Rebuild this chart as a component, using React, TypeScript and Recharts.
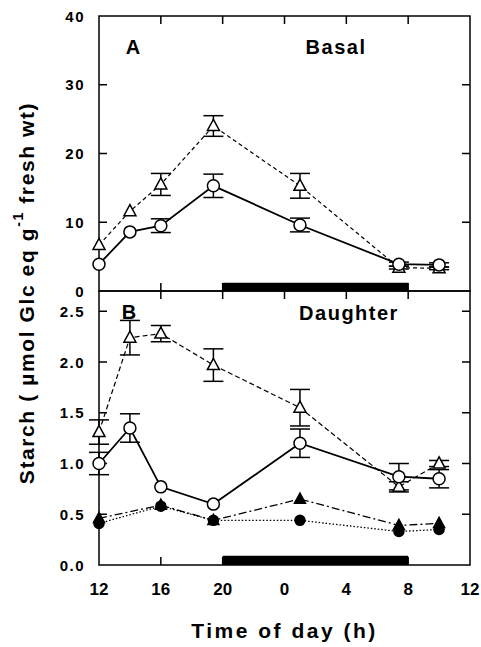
import React from 'react';
import { LineChart, Line, XAxis, YAxis, ErrorBar, ReferenceArea } from 'recharts';

// hours after midnight of day 1 (24 = 0 h next day)
const HOURS = [12, 14, 16, 19.4, 25, 31.4, 34];
const X_TICKS = [12, 16, 20, 24, 28, 32, 36];
const A_TICKS = [0, 10, 20, 30, 40];
const B_TICKS = [0, 0.5, 1.0, 1.5, 2.0, 2.5];

// Panel A - basal
const BASAL_CIRCLE = [3.9, 8.6, 9.5, 15.3, 9.6, 3.9, 3.8];
const BASAL_CIRCLE_ERR = [0, 0, 1.0, 1.7, 1.0, 0.3, 0.3];
const BASAL_TRIANGLE = [6.7, 11.6, 15.5, 24.0, 15.3, 3.4, 3.3];
const BASAL_TRIANGLE_ERR = [0, 0, 1.6, 1.5, 1.8, 0.2, 0.2];

// Panel B - daughter
const DAUGHTER_OPEN_TRI = [1.31, 2.24, 2.28, 1.97, 1.55, 0.77, 1.0];
const DAUGHTER_OPEN_TRI_ERR = [0.12, 0.17, 0.08, 0.16, 0.18, 0.05, 0.03];
const DAUGHTER_OPEN_CIRCLE = [1.0, 1.35, 0.77, 0.6, 1.2, 0.87, 0.85];
const DAUGHTER_OPEN_CIRCLE_ERR = [0.11, 0.14, 0, 0, 0.14, 0.13, 0.09];
const DAUGHTER_FILLED_TRI = [0.46, null, 0.59, 0.44, 0.65, 0.39, 0.41];
const DAUGHTER_FILLED_CIRCLE = [0.41, null, 0.58, 0.44, 0.44, 0.33, 0.35];

const X_MIN = 12;
const X_MAX = 36;
const A_MAX = 40;
const B_MAX = 2.7;
const DARK_START = 20;
const DARK_END = 32;

const basalData = HOURS.map((h, i) => ({
  h,
  circle: BASAL_CIRCLE[i],
  circleErr: BASAL_CIRCLE_ERR[i],
  tri: BASAL_TRIANGLE[i],
  triErr: BASAL_TRIANGLE_ERR[i],
}));

const daughterData = HOURS.map((h, i) => ({
  h,
  openTri: DAUGHTER_OPEN_TRI[i],
  openTriErr: DAUGHTER_OPEN_TRI_ERR[i],
  openCircle: DAUGHTER_OPEN_CIRCLE[i],
  openCircleErr: DAUGHTER_OPEN_CIRCLE_ERR[i],
  filledTri: DAUGHTER_FILLED_TRI[i],
  filledCircle: DAUGHTER_FILLED_CIRCLE[i],
}));

const FONT = '"Liberation Sans", Arial, Helvetica, sans-serif';
const TICK_LEN = 8;

const circleDot = (filled: boolean, r: number) => (props: any) => {
  const { cx, cy, index, value } = props;
  if (cx == null || cy == null || value == null) return <g key={index} />;
  return (
    <circle key={index} cx={cx} cy={cy} r={r} fill={filled ? '#000' : '#fff'} stroke="#000" strokeWidth={1.5} />
  );
};

const triangleDot = (filled: boolean, s: number) => (props: any) => {
  const { cx, cy, index, value } = props;
  if (cx == null || cy == null || value == null) return <g key={index} />;
  const pts = `${cx},${cy - s * 1.1} ${cx - s},${cy + s * 0.75} ${cx + s},${cy + s * 0.75}`;
  return <polygon key={index} points={pts} fill={filled ? '#000' : '#fff'} stroke="#000" strokeWidth={1.5} />;
};

const yLabel = (decimals: number) => (props: any) => (
  <text x={props.x} y={props.y} textAnchor="end" dominantBaseline="central" fontFamily={FONT} fontWeight="bold"
    fontSize={15} letterSpacing={1.5} fill="#000">
    {Number(props.payload.value).toFixed(decimals)}
  </text>
);

const xLabel = (props: any) => (
  <text x={props.x} y={props.y} textAnchor="middle" dominantBaseline="central" fontFamily={FONT} fontWeight="bold"
    fontSize={17} fill="#000">
    {Number(props.payload.value) % 24}
  </text>
);

// frame of the plot box with inward ticks on all four sides
const frameShape = (yTicks: number[], yMax: number) => (props: any) => {
  const x = Number(props.x);
  const y = Number(props.y);
  const w = Number(props.width);
  const h = Number(props.height);
  const px = (v: number) => x + ((v - X_MIN) / (X_MAX - X_MIN)) * w;
  const py = (v: number) => y + h - (v / yMax) * h;
  let d = '';
  yTicks.filter((v) => v > 0 && v < yMax).forEach((v) => {
    d += `M${x},${py(v)}h${TICK_LEN}M${x + w},${py(v)}h${-TICK_LEN}`;
  });
  X_TICKS.filter((v) => v > X_MIN && v < X_MAX).forEach((v) => {
    d += `M${px(v)},${y + h}v${-TICK_LEN}M${px(v)},${y}v${TICK_LEN}`;
  });
  return (
    <g>
      <rect x={x} y={y} width={w} height={h} fill="none" stroke="#000" strokeWidth={1.5} />
      <path d={d} fill="none" stroke="#000" strokeWidth={1.5} />
    </g>
  );
};

const panelLabel = { fontFamily: FONT, fontWeight: 'bold' as const, fontSize: 20, fill: '#000' };

const App: React.FC = () => {
  return (
    <div style={{ position: 'absolute', left: 0, top: 0, width: 481, height: 647, background: '#fff' }}>
      {/* Panel A */}
      <div style={{ position: 'absolute', left: 0, top: 0 }}>
        <LineChart width={481} height={305} data={basalData} margin={{ top: 16, right: 11, bottom: 0, left: 0 }}>
          <XAxis dataKey="h" type="number" domain={[X_MIN, X_MAX]} ticks={X_TICKS} height={14}
            axisLine={false} tickLine={false} tick={false} />
          <YAxis type="number" domain={[0, A_MAX]} ticks={A_TICKS} width={99} axisLine={false}
            tickLine={false} tickSize={0} tickMargin={14} tick={yLabel(0)} />
          <ReferenceArea x1={DARK_START} x2={DARK_END} y1={0} y2={1.2} fill="#000" fillOpacity={1} stroke="none" />
          <ReferenceArea x1={X_MIN} x2={X_MAX} y1={0} y2={A_MAX} shape={frameShape(A_TICKS, A_MAX)} />
          <Line dataKey="tri" stroke="#000" strokeWidth={1.2} strokeDasharray="4 3"
            dot={triangleDot(false, 6)} isAnimationActive={false}>
            <ErrorBar dataKey="triErr" width={10} stroke="#000" strokeWidth={1.5} direction="y" isAnimationActive={false} />
          </Line>
          <Line dataKey="circle" stroke="#000" strokeWidth={1.8}
            dot={circleDot(false, 6)} isAnimationActive={false}>
            <ErrorBar dataKey="circleErr" width={10} stroke="#000" strokeWidth={1.5} direction="y" isAnimationActive={false} />
          </Line>
        </LineChart>
      </div>

      {/* Panel B */}
      <div style={{ position: 'absolute', left: 0, top: 0 }}>
        <LineChart width={481} height={647} data={daughterData} margin={{ top: 291, right: 11, bottom: 0, left: 0 }}>
          <XAxis dataKey="h" type="number" domain={[X_MIN, X_MAX]} ticks={X_TICKS} height={82}
            axisLine={false} tickLine={false} tickSize={0} tickMargin={24} tick={xLabel}
            label={{ value: 'Time of day (h)', position: 'insideBottom', offset: 9, fontFamily: FONT,
              fontWeight: 'bold', fontSize: 21, letterSpacing: 2.5, fill: '#000' }} />
          <YAxis type="number" domain={[0, B_MAX]} ticks={B_TICKS} width={99} axisLine={false}
            tickLine={false} tickSize={0} tickMargin={14} tick={yLabel(1)} />
          <ReferenceArea x1={DARK_START} x2={DARK_END} y1={0} y2={0.09} fill="#000" fillOpacity={1} stroke="none" />
          <ReferenceArea x1={X_MIN} x2={X_MAX} y1={0} y2={B_MAX} shape={frameShape(B_TICKS, B_MAX)} />
          <Line dataKey="filledCircle" stroke="#000" strokeWidth={1.3} strokeDasharray="1.5 2" connectNulls
            dot={circleDot(true, 5)} isAnimationActive={false} />
          <Line dataKey="filledTri" stroke="#000" strokeWidth={1.3} strokeDasharray="8 3 2 3" connectNulls
            dot={triangleDot(true, 5.5)} isAnimationActive={false} />
          <Line dataKey="openTri" stroke="#000" strokeWidth={1.2} strokeDasharray="5 3"
            dot={triangleDot(false, 6)} isAnimationActive={false}>
            <ErrorBar dataKey="openTriErr" width={10} stroke="#000" strokeWidth={1.5} direction="y" isAnimationActive={false} />
          </Line>
          <Line dataKey="openCircle" stroke="#000" strokeWidth={1.8}
            dot={circleDot(false, 6)} isAnimationActive={false}>
            <ErrorBar dataKey="openCircleErr" width={10} stroke="#000" strokeWidth={1.5} direction="y" isAnimationActive={false} />
          </Line>
        </LineChart>
      </div>

      {/* panel captions and shared y label */}
      <svg width={481} height={647} style={{ position: 'absolute', left: 0, top: 0, pointerEvents: 'none' }}>
        <text x={133} y={47} textAnchor="middle" dominantBaseline="central" {...panelLabel}>A</text>
        <text x={336} y={47} textAnchor="middle" dominantBaseline="central" letterSpacing={1.5} {...panelLabel}>Basal</text>
        <text x={129} y={312} textAnchor="middle" dominantBaseline="central" {...panelLabel}>B</text>
        <text x={349} y={313} textAnchor="middle" dominantBaseline="central" letterSpacing={1.5} {...panelLabel}>Daughter</text>
        <text transform="translate(26,293) rotate(-90)" textAnchor="middle" dominantBaseline="central"
          fontFamily={FONT} fontWeight="bold" fontSize={21} letterSpacing={1.6} fill="#000">
          Starch ( µmol Glc eq g<tspan dy={-8} fontSize={14}>-1</tspan><tspan dy={8}> fresh wt)</tspan>
        </text>
      </svg>
    </div>
  );
};

export default App;
